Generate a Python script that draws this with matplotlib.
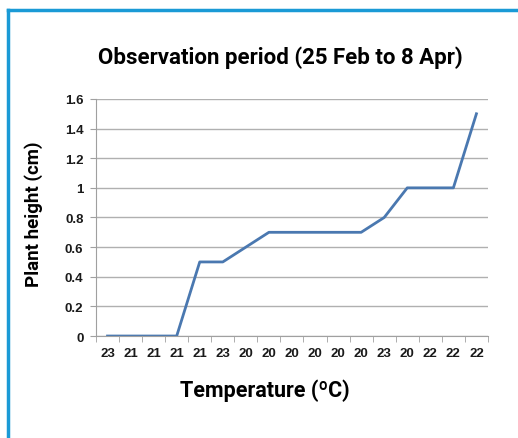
import matplotlib.pyplot as plt
from matplotlib.lines import Line2D

# data
temps = ['23', '21', '21', '21', '21', '23', '20', '20', '20',
         '20', '20', '20', '23', '20', '22', '22', '22']
height = [0, 0, 0, 0, 0.5, 0.5, 0.6, 0.7, 0.7,
          0.7, 0.7, 0.7, 0.8, 1.0, 1.0, 1.0, 1.5]
yticks = [0, 0.2, 0.4, 0.6, 0.8, 1, 1.2, 1.4, 1.6]
ytick_labels = ['0', '0.2', '0.4', '0.6', '0.8', '1', '1.2', '1.4', '1.6']

head_font = ['Roboto', 'DejaVu Sans']
tick_font = ['Liberation Sans', 'DejaVu Sans']

fig = plt.figure(figsize=(5.18, 4.39), dpi=100)
ax = fig.add_axes([0.1853, 0.2323, 0.7567, 0.54])

x = list(range(len(height)))
ax.plot(x, height, color='#4a78b0', lw=2)

ax.set_xlim(-0.5, len(height) - 0.5)
ax.set_ylim(0, 1.6)

# gridlines
ax.set_yticks(yticks)
ax.set_yticklabels(ytick_labels)
ax.yaxis.grid(True, color='#b0b0b0', lw=1)
ax.set_axisbelow(True)

# category labels centred, tick marks between categories
ax.set_xticks(x)
ax.set_xticklabels(temps)
ax.set_xticks([i - 0.5 for i in range(len(height) + 1)], minor=True)
ax.tick_params(axis='x', which='major', length=0, pad=8)
ax.tick_params(axis='x', which='minor', length=4, color='#a0a0a0')
ax.tick_params(axis='y', length=4, color='#a0a0a0', pad=5)

for lab in ax.get_xticklabels() + ax.get_yticklabels():
    lab.set_family(tick_font)
    lab.set_fontweight('bold')
    lab.set_fontsize(9.5)
    lab.set_color('#1a1a1a')

for s in ['top', 'right']:
    ax.spines[s].set_visible(False)
for s in ['left', 'bottom']:
    ax.spines[s].set_color('#a0a0a0')

fig.text(0.541, 0.868, 'Observation period (25 Feb to 8 Apr)', ha='center', va='center',
         family=head_font, fontweight='bold', fontsize=16)
fig.text(0.064, 0.512, 'Plant height (cm)', ha='center', va='center', rotation=90,
         family=head_font, fontweight='bold', fontsize=13.5)
fig.text(0.512, 0.11, 'Temperature (ºC)', ha='center', va='center',
         family=head_font, fontweight='bold', fontsize=15.5)

# blue frame along left and top
fig.add_artist(Line2D([0.0154, 0.0154], [0, 0.975], color='#1a9ad6', lw=2.5))
fig.add_artist(Line2D([0.0154, 1.0], [0.975, 0.975], color='#1a9ad6', lw=2.5))

fig.savefig('out.png', dpi=100)
